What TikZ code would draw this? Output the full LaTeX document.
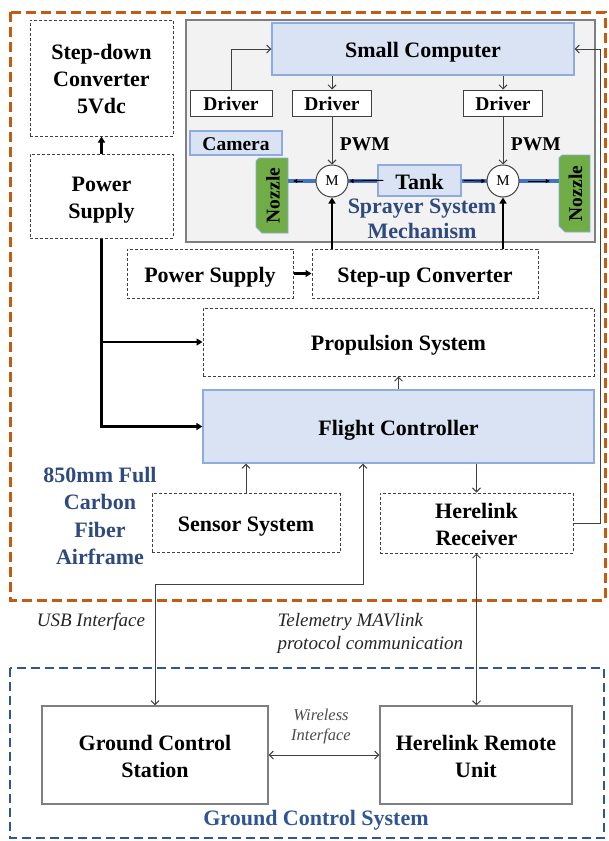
\documentclass[tikz,border=0pt]{standalone}
\usepackage{fontspec}
\setmainfont{Liberation Serif}
\usetikzlibrary{arrows.meta,calc}

\definecolor{frameorange}{HTML}{C55A11}
\definecolor{gcsblue}{HTML}{2F5597}
\definecolor{labelblue}{HTML}{2E4A7F}
\definecolor{boxfill}{HTML}{DAE3F3}
\definecolor{boxline}{HTML}{8FAADC}
\definecolor{pipeblue}{HTML}{4472C4}
\definecolor{nozzlegreen}{HTML}{70AD47}
\definecolor{sprayfill}{HTML}{F2F2F2}
\definecolor{lineg}{HTML}{404040}
\definecolor{solidg}{HTML}{7F7F7F}

\tikzset{
  big/.style={font=\bfseries\fontsize{22}{27}\selectfont, align=center, text=black, text height=17.6pt, text depth=0pt},
  twolines/.style={text height=44.6pt, text depth=0pt},
  threelines/.style={text height=71.6pt, text depth=0pt},
  small/.style={font=\bfseries\fontsize{19.5}{23}\selectfont, align=center, text=black, text height=15pt, text depth=0pt},
  dbox/.style={draw=lineg, line width=1pt, dash pattern=on 3pt off 2pt, fill=white, inner sep=0pt, big},
  sbox/.style={draw=solidg, line width=1.2pt, fill=white, inner sep=0pt, big},
  bluebox/.style={draw=boxline, line width=1.2pt, fill=boxfill, inner sep=0pt, big},
  drvbox/.style={draw=lineg, line width=1pt, fill=white, inner sep=0pt, small},
  motor/.style={circle, draw=lineg, line width=1pt, fill=white, minimum size=32pt, inner sep=0pt, font=\fontsize{15}{15}\selectfont},
  sprayframe/.style={draw=solidg, line width=1.5pt, fill=sprayfill, inner sep=0pt},
  nozzleshape/.style={fill=nozzlegreen, draw=boxline, line width=0.8pt},
  thinarrow/.style={draw=lineg, line width=1pt, -{Straight Barb[length=4pt,width=8pt]}},
  bothways/.style={draw=lineg, line width=1pt, {Straight Barb[length=4pt,width=8pt]}-{Straight Barb[length=4pt,width=8pt]}},
  powerarrow/.style={draw=black, line width=2.5pt, -{Triangle[length=6pt,width=7pt]}},
  pipe/.style={draw=pipeblue, line width=4pt},
  flow/.style={draw=black, line width=1pt, -{Triangle[length=4pt,width=4pt]}},
  bluelabel/.style={font=\bfseries\fontsize{22}{27.5}\selectfont, text=labelblue, align=center},
  note/.style={font=\itshape\fontsize{19}{23}\selectfont, text=black!85}
}

\begin{document}
\begin{tikzpicture}[x=1pt,y=-1pt]
\useasboundingbox (0,0) rectangle (608,841);

% enclosing frames
\draw[frameorange, line width=3pt, dash pattern=on 10pt off 5pt] (10,12) rectangle (605,600);
\draw[gcsblue, line width=2.8pt, dash pattern=on 9pt off 5pt] (10,668) rectangle (604,838);
\node[sprayframe, minimum width=409pt, minimum height=222pt] (spray) at (390.5,131) {};

% power side
\node[dbox, threelines, minimum width=143pt, minimum height=116pt] (stepdown) at (101.5,78) {Step-down\\Converter\\5Vdc};
\node[dbox, twolines, minimum width=143pt, minimum height=84pt] (psleft) at (101.5,196) {Power\\Supply};
\node[dbox, minimum width=166pt, minimum height=49pt] (psmid) at (210,273.5) {Power Supply};
\node[dbox, minimum width=226pt, minimum height=49pt] (stepup) at (425,273.5) {Step-up Converter};

% sprayer mechanism
\node[bluebox, minimum width=302pt, minimum height=52pt] (smallcomp) at (423,49) {Small Computer};
\node[drvbox, minimum width=82pt, minimum height=26pt] (drvL) at (231,103) {Driver};
\node[drvbox, minimum width=79pt, minimum height=26pt] (drvM) at (332,103) {Driver};
\node[drvbox, minimum width=79pt, minimum height=26pt] (drvR) at (503,103) {Driver};
\node[bluebox, small, minimum width=92pt, minimum height=24pt] (camera) at (236,143) {Camera};
\node[bluebox, minimum width=83pt, minimum height=31pt] (tank) at (419.5,180.5) {Tank};

\path[nozzleshape] (256,161) -- (259,158) -- (288,158) -- (288,233) -- (262,233) -- (256,227) -- cycle;
\path[nozzleshape] (559,158) -- (562,155) -- (590,155) -- (590,232) -- (565,232) -- (559,226) -- cycle;
\node[small, rotate=90, minimum width=75pt, minimum height=32pt, inner sep=0pt] (nozL) at (272,195.5) {Nozzle};
\node[small, rotate=90, minimum width=77pt, minimum height=31pt, inner sep=0pt] (nozR) at (574.5,193.5) {Nozzle};

% liquid lines
\draw[pipe] (tank.west) -- (tank.west -| nozL.south);
\draw[pipe] (tank.east) -- (tank.east -| nozR.north);

\node[motor] (motorL) at (332,181) {M};
\node[motor] (motorR) at (503,181) {M};

\draw[flow, shorten <=-6pt, shorten >=1pt] (tank.west) -- (motorL.east);
\draw[flow, shorten <=13pt, shorten >=5pt] (motorL.west) -- (motorL.west -| nozL.south);
\draw[flow, shorten <=2pt, shorten >=1pt] (tank.east) -- (motorR.west);
\draw[flow, shorten <=8pt, shorten >=9pt] (motorR.east) -- (motorR.east -| nozR.north);

\node[bluelabel, font=\bfseries\fontsize{22}{25}\selectfont] (spraylbl) at (422,219) {Sprayer System\\Mechanism};

% control signals inside the sprayer
\draw[thinarrow] (drvL.north) |- (smallcomp.west);
\draw[thinarrow] (smallcomp.south -| drvM.north) -- (drvM.north);
\draw[thinarrow] (smallcomp.south -| drvR.north) -- (drvR.north);
\draw[thinarrow] (drvM.south) -- node[small, right=4pt, pos=0.55] (pwmL) {PWM} (motorL.north);
\draw[thinarrow] (drvR.south) -- node[small, right=4pt, pos=0.55] (pwmR) {PWM} (motorR.north);

% flight stack
\node[dbox, minimum width=391pt, minimum height=68pt] (prop) at (398.5,342) {Propulsion System};
\node[bluebox, minimum width=391pt, minimum height=73pt] (fc) at (398.5,426.5) {Flight Controller};
\node[dbox, minimum width=188pt, minimum height=59pt] (sensor) at (246,523) {Sensor System};
\node[dbox, twolines, minimum width=193pt, minimum height=60pt] (hrx) at (476.5,523) {Herelink\\Receiver};
\node[bluelabel] (airframe) at (100,516) {850mm Full\\Carbon\\Fiber\\Airframe};

% power distribution
\draw[powerarrow] (psleft.north) -- (stepdown.south);
\draw[powerarrow] (psleft.south) |- (prop.west);
\draw[powerarrow] (psleft.south) |- (fc.west);
\draw[powerarrow] (psmid.east) -- (stepup.west);
\draw[powerarrow] (stepup.north -| motorL.south) -- (motorL.south);
\draw[powerarrow] (stepup.north -| motorR.south) -- (motorR.south);

% flight controller links
\draw[thinarrow] (fc.north) -- (prop.south);
\draw[thinarrow] (sensor.north) -- (sensor.north |- fc.south);
\draw[thinarrow] (fc.south -| hrx.north) -- (hrx.north);
\coordinate (rtop) at (600,49);
\draw[thinarrow] (hrx.east) -| (rtop) -- (smallcomp.east);

% ground segment
\node[sbox, twolines, minimum width=226pt, minimum height=98pt] (gcs) at (155,755) {Ground Control\\Station};
\node[sbox, twolines, minimum width=192pt, minimum height=98pt] (hru) at (476,755) {Herelink Remote\\Unit};
\node[bluelabel, text=gcsblue] (gcslbl) at (316,820) {Ground Control System};

\coordinate (usbturn) at (363,584);
\draw[bothways] (gcs.north) |- (usbturn) -- (usbturn |- fc.south);
\draw[bothways] (hrx.south) -- (hrx.south |- hru.north);
\draw[bothways] (gcs.east) -- (hru.west);

\node[note] (usb) at (91,622) {USB Interface};
\node[note, align=left, anchor=west, font=\itshape\fontsize{19}{23}\selectfont] (telem) at (274,633.5) {Telemetry MAVlink\\protocol communication};
\node[note, align=center, text=black!70, font=\itshape\fontsize{16.5}{20}\selectfont] (wireless) at (321,727) {Wireless\\Interface};
\end{tikzpicture}
\end{document}
